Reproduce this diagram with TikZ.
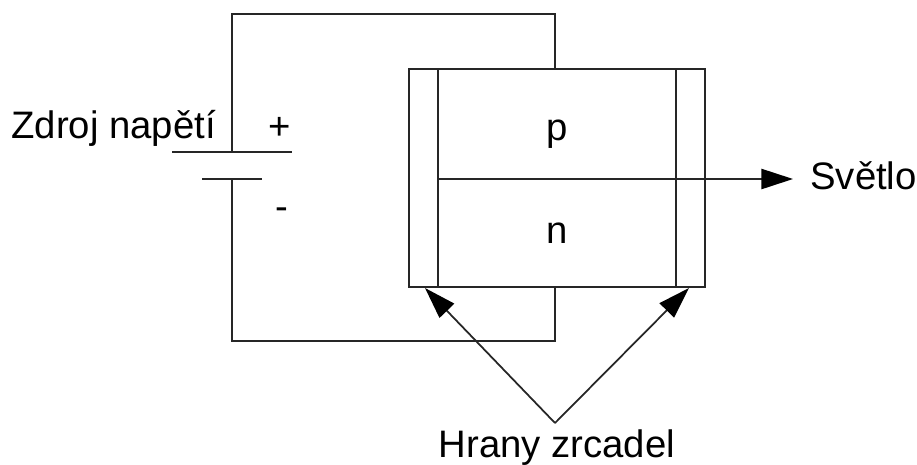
\documentclass[tikz,border=0pt]{standalone}
\usepackage{fontspec}
\setmainfont{Liberation Sans}
\usetikzlibrary{arrows.meta}
\begin{document}
\begin{tikzpicture}[x=0.02cm, y=-0.02cm]
\tikzset{wire/.style={draw=black!85, line width=1.05pt}}
\tikzset{sipka/.style={draw=black!85, line width=1pt, -{Triangle[length=18pt, width=11.5pt, color=black]}}}
\tikzset{popis/.style={inner sep=0pt, font=\fontsize{21.8}{25}\selectfont}}
\tikzset{dil/.style={wire, minimum height=218*0.02cm, inner sep=0pt, outer sep=0pt}}
\useasboundingbox (0, 0) rectangle (917, 464);
% dioda a zrcadla
\node[dil, minimum width=296*0.02cm] (D) at (557, 178) {};
\node[dil, minimum width=29*0.02cm] (Z1) at (423.5, 178) {};
\node[dil, minimum width=29*0.02cm] (Z2) at (690.5, 178) {};
% zdroj
\coordinate (B1) at (232, 152);
\coordinate (B2) at (232, 179);
\coordinate (B1l) at (172, 152);
\coordinate (B1r) at (292, 152);
\coordinate (B2l) at (202, 179);
\coordinate (B2r) at (262, 179);
\coordinate (H) at (555, 14);
\coordinate (H1) at (232, 14);
\coordinate (Hd) at (555, 69);
\coordinate (L) at (555, 341);
\coordinate (L1) at (232, 341);
\coordinate (Ld) at (555, 287);
\coordinate (S1) at (438, 179);
\coordinate (S2) at (793, 179);
\coordinate (A) at (555, 423);
\coordinate (A1) at (425, 288);
\coordinate (A2) at (689, 288);
\draw[wire] (B1l) -- (B1r);
\draw[wire] (B2l) -- (B2r);
\draw[wire] (B1) -- (H1) -- (H) -- (Hd);
\draw[wire] (B2) -- (L1) -- (L) -- (Ld);
\draw[sipka] (S1) -- (S2);
\draw[sipka] (A) -- (A1);
\draw[sipka] (A) -- (A2);
% popisky
\node[popis, anchor=base west] (T1) at (11, 138) {Zdroj napětí};
\node[popis] (T2) at (280, 128) {+};
\node[popis, anchor=base] (T3) at (282, 219) {-};
\node[popis, anchor=base] (T4) at (557, 140) {p};
\node[popis, anchor=base] (T5) at (557, 243) {n};
\node[popis, anchor=base west] (T6) at (810, 189) {Světlo};
\node[popis, anchor=base] (T7) at (557, 457) {Hrany zrcadel};
\end{tikzpicture}
\end{document}
